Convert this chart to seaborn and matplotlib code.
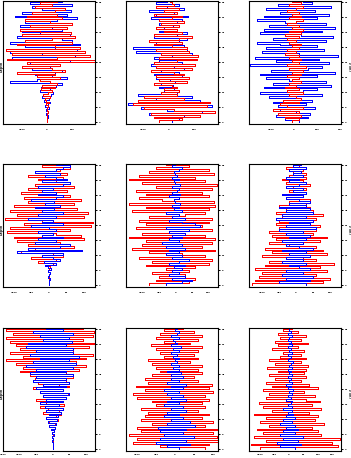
import numpy as np
import pandas as pd
import matplotlib
matplotlib.use("Agg")
import matplotlib.pyplot as plt
import seaborn as sns

sns.set_style("white")
plt.rcParams['font.family'] = ['DejaVu Sans']

# ---- data (index 0 = bottom level), 65 levels per panel ----
blue_A = [1, -2, 3, 2, -4, 5, -3, 6, -8, 4, 10, -12, 8,
          -20, 15, 25, -30, 10, -25, 35, 60, -150, -40, 80, 20, -50,
          30, 60, -60, 10, 50, -70, 90, 40, -140, 110, -20, -150, 120,
          30, -90, 130, -150, 100, 60, -120, 90, -30, -100, 60, 20, -110,
          100, -90, 40, 120, -130, 80, -100, 95, -20, -60, 100, -70, 60]
red_A = [0, 0, 1, -1, 0, 2, -2, 1, 3, -5, 6, -4, -8,
         12, -15, 5, 20, -25, 30, -20, 40, 10, -30, 50, -40, 30,
         -120, 70, 20, -100, 50, -80, 190, -160, 40, 170, -140, 150, -165,
         130, 30, -120, 100, -90, 20, 110, -100, 95, -30, -110, 80, -70,
         100, 10, -90, 60, -80, 40, -60, 30, 70, -50, 20, -30, 40]

blue_B = [10, 40, -30, 60, -80, 130, -10, -110, 170, -160, 30, 120, -50,
          90, -120, 30, -20, 20, -40, 15, -30, 25, 5, -50, 50, -60,
          40, -30, 60, 20, -70, 50, -40, 80, -60, 10, 90, -130, 70,
          -140, 60, -20, -50, 40, 70, -60, 30, 70, -40, 30, -20, 15,
          -40, 30, 50, -70, 75, -50, 20, -80, 60, -10, 40, -50, -10]
red_B = [-40, 50, -60, 120, -70, 180, 20, -100, 150, -140, 160, -120, 60,
         -100, 30, -30, 40, -20, 30, 10, -60, 70, -40, 80, -50, 60,
         20, -70, 90, -50, 100, -60, 30, 110, -40, 114, -30, 80, -50,
         70, 10, -60, 50, -80, 40, 90, -60, 50, -20, 30, -50, 40,
         -30, 60, -40, 10, 50, -60, 30, -20, 40, -50, 20, 10, 5]

blue_C = [20, -40, 60, -80, 70, 10, -60, 90, -70, 50, -90, 80, 30,
          -110, 120, -150, 40, 100, -130, 160, -90, 140, -20, -120, 100, -150,
          180, -100, 60, 120, -190, 150, -80, 110, -170, 190, 20, -140, 130,
          -120, 100, -60, -160, 140, -90, 170, 30, -150, 120, -130, 180, -110,
          140, -40, -160, 100, -130, 150, -60, 90, -120, 160, -70, 80, 40]
red_C = [-10, 20, -40, 30, -70, 20, -90, 40, -30, -60, 20, -50, 30,
         10, -20, 40, -30, 20, -40, 10, -20, 30, -10, 20, -30, 30,
         -10, 40, -20, 50, -30, 20, -10, 30, -20, 20, -40, 10, -30,
         20, -10, 30, -20, 10, -30, 20, -40, 30, -20, 40, -10, 20,
         -30, 10, 40, -20, 30, -10, 20, -30, 10, 40, -20, 30, -10]

blue_D = [0, 1, -1, 2, -2, 0, 3, -4, 5, -3, -10, 20, -15,
          30, 10, -20, 40, -90, 95, -60, 30, 60, -40, 20, -30, 40,
          -20, 10, -30, 20, 0, -50, 40, -20, 10, -60, 20, -30, 40,
          -20, 15, -40, 30, -10, 15, -50, 20, 40, -30, 20, -20, 10,
          -30, 40, 60, -20, 50, 20, -10, 30, -40, 20, 40, 60, 20]
red_D = [0, 0, 0, 1, -1, 0, 2, -2, 1, 3, -5, 10, -30,
         20, -50, 40, 10, -80, 50, -40, 70, -60, 30, -90, 100, -100,
         90, 20, -120, 60, -110, 120, -70, 125, -20, -125, 100, -90, 110,
         -110, 80, -30, -100, 70, -60, 90, -70, 60, 10, -80, 50, -60,
         70, -40, 60, 20, -30, 40, -60, 50, -40, 30, 60, -20, 40]

blue_E = [-30, 20, 50, -10, 30, -20, 10, -10, 20, -5, 30, -20, 10,
          40, -10, 20, -30, 10, -20, 30, -30, 20, -40, 10, -20, 20,
          -10, 30, -20, 40, -30, 75, 60, 20, -20, 30, -10, 10, -30,
          20, -5, 10, -10, 15, 0, -5, 10, -20, 15, -10, 5, 10,
          -10, 15, 0, -5, 10, -10, 5, 0, -5, 10, 20, -10, 0]
red_E = [-80, 40, -60, 60, -50, 30, -70, 40, -30, 60, -90, 100, -70,
         110, -110, 90, 20, -80, 120, -130, 80, -100, 110, -90, 120, -140,
         90, -100, -20, 110, -120, 80, -90, 100, -110, 110, -80, 30, 90,
         -130, 100, -90, 120, -140, 115, -40, -110, 100, -90, 80, -120, 110,
         -60, 125, -100, 90, -140, 60, -110, 115, -80, 100, -60, 40, -30]

blue_F = [30, -50, 40, -30, 50, -40, 20, -30, 40, 10, -20, 30, -40,
          20, -30, 40, -20, 30, -40, 50, 10, -30, 20, -40, 30, -20,
          40, -30, 20, -50, 60, -30, 40, -20, 50, -60, 30, -40, 50,
          -30, 40, -50, 30, -20, 40, 10, -30, 20, -40, 30, -10, 20,
          -30, 10, 30, -20, 10, -30, 20, -10, 15, -20, 30, -10, 15]
red_F = [-130, 80, -120, 100, -110, 60, -100, 90, -120, 70, -90, 110, -80,
         60, 20, -100, 90, -70, 80, -90, 60, -20, -80, 70, -60, 90,
         -70, 50, -80, 60, -50, 70, -60, 40, -50, 60, -40, 80, -60,
         50, -30, 40, -50, 30, -20, 40, -30, 20, -40, 30, -20, 30,
         -10, 40, -30, 20, -40, 30, -20, 30, -10, 20, -30, 10, -10]

blue_G = [0, 0, 0, 1, -1, 1, -2, 3, -3, 5, -6, 8, -10,
          10, -15, 12, -20, 15, -10, 25, -20, 30, -25, 20, -40, 30,
          -20, 40, -30, 50, -40, 30, -50, 40, -30, 50, -60, 40, -50,
          60, -70, 40, -50, 60, -80, 70, -60, 50, -40, 80, -70, 60,
          -50, 60, -80, 40, -75, 57, -30, 50, -40, 60, -60, 30, -20]
red_G = [0, 0, 0, 0, 0, 1, -1, 2, -3, 5, -4, 8, -10,
         6, -12, 15, -20, 10, 25, -30, 20, -15, -40, 35, -20, 30,
         -50, 40, -30, 45, -40, 30, -60, 50, 20, -45, 40, -55, 60,
         -70, 40, -100, 80, -90, 100, -110, 70, -140, 100, -90, 120, -130,
         60, -100, 110, -110, 123, -130, 90, -140, 120, -120, 123, -142, 90]

blue_H = [10, -20, 40, -50, 30, -40, 50, -30, 20, -40, 30, -45, 53,
          -20, 40, -10, 20, -30, 10, -20, 30, -10, 20, -30, 10, -20,
          30, -10, 20, -20, 10, -30, 20, -10, 30, -20, 10, -10, 20,
          -10, 15, -20, 10, -5, 10, -10, 5, 0, 10, -5, 5, -10,
          10, -5, 15, -10, 5, 0, -5, 10, -10, 5, 10, 0, 5]
red_H = [80, -40, 90, -110, 120, -100, 110, -120, 100, -90, 110, -100, 80,
         -60, 100, -90, 70, -80, 90, -70, 60, -90, 80, -50, 70, -60,
         90, -100, 80, -110, 100, -80, 90, -103, 97, -70, 60, -80, 50,
         -60, 70, -40, 60, -50, 70, -60, 40, -70, 60, -30, 50, -40,
         60, -50, 71, -63, 40, -30, 60, -50, 70, -40, 50, -30, 20]

blue_I = [20, -30, 40, -43, 30, -20, 49, -30, 20, -20, 30, -10, 20,
          -30, 10, -20, 20, -10, 15, -5, 10, -20, 10, -5, 5, 10,
          -10, 5, -5, 10, 0, 15, -5, 5, -10, 10, 0, 5, -5,
          10, 0, 5, -5, 10, 0, 5, 15, -5, 0, 5, -5, 10,
          0, 5, -5, 10, 0, 5, -5, 0, 10, -5, 5, 0, 0]
red_I = [-100, 170, -133, 150, -80, 177, -120, 110, -90, 100, -110, 80, -70,
         120, -100, 90, -80, 100, -120, 70, -60, 110, -90, 80, -104, 108,
         60, -80, 90, -70, 50, -90, 100, -60, 70, -80, 40, -50, 60,
         -70, 50, -40, 60, -77, 66, -50, 40, -70, 60, -30, 40, -20,
         50, -60, 30, -40, 66, -50, 40, -30, 60, -40, 30, -20, 10]

x_limits = [(-176, 192), (-169, 192), (-196, 204),
            (-131, 131), (-149, 128), (-138, 132),
            (-150, 127), (-129, 113), (-139, 180)]
x_ticks = [[-100, 0, 100], [-100, 0, 100], [-100, 0, 100, 200],
           [-100, -50, 0, 50, 100], [-100, -50, 0, 50, 100], [-100, -50, 0, 50, 100],
           [-150, -100, -50, 0, 50, 100], [-100, -50, 0, 50, 100], [-100, -50, 0, 50, 100, 150]]
top_series = ["red", "red", "red", "blue", "blue", "blue", "blue", "blue", "blue"]
blues = [blue_A, blue_B, blue_C, blue_D, blue_E, blue_F, blue_G, blue_H, blue_I]
reds = [red_A, red_B, red_C, red_D, red_E, red_F, red_G, red_H, red_I]
y_ticks = [0, 8, 16, 24, 32, 40, 48, 56, 64]
left_label = "Depth"
right_label = "z [m]"

W, H = 351, 458
fig = plt.figure(figsize=(W / 100, H / 100), dpi=100)
col_left = [3, 126, 249]
row_top = [1, 164, 328]
aw, ah = 92, 123

for k in range(9):
    bv, rv = blues[k], reds[k]
    r, c = divmod(k, 3)
    ax = fig.add_axes([col_left[c] / W, 1 - (row_top[r] + ah) / H, aw / W, ah / H])
    n = len(bv)
    df = pd.DataFrame({"idx": np.arange(n), "blue": bv, "red": rv})
    order = ["red", "blue"] if top_series[k] == "blue" else ["blue", "red"]
    for s in order:
        col = "#0000ff" if s == "blue" else "#ff0000"
        sns.lineplot(data=df, x=s, y="idx", orient="y", sort=False, estimator=None,
                     drawstyle="steps-pre", color=col, lw=0.72, antialiased=False, ax=ax)
    ax.set_xlim(*x_limits[k])
    ax.set_ylim(-1.0, n - 1 + 0.8)
    ax.set_xticks(x_ticks[k])
    ax.set_yticks(y_ticks)
    ax.yaxis.tick_right()
    ax.set_xlabel("")
    ax.set_ylabel("")
    ax.tick_params(axis="both", direction="out", length=1.5, width=0.7, pad=1.2,
                   labelsize=1.6, colors="black")
    ax.tick_params(axis="x", length=0, pad=3.5 if r < 2 else 2.0)
    for lab in ax.get_xticklabels() + ax.get_yticklabels():
        lab.set_fontweight("bold")
    for sp in ax.spines.values():
        sp.set_linewidth(0.8)
        sp.set_color("black")
    if c == 0:
        ax.text(-1.6 / aw, 0.47, left_label, transform=ax.transAxes, rotation=90,
                ha="center", va="center", fontsize=2.4, fontweight="bold")
    if c == 2:
        ax.text(1 + 7.6 / aw, 0.47, right_label, transform=ax.transAxes, rotation=270,
                ha="center", va="center", fontsize=2.2, fontweight="bold")

fig.savefig("out.png", dpi=100)
